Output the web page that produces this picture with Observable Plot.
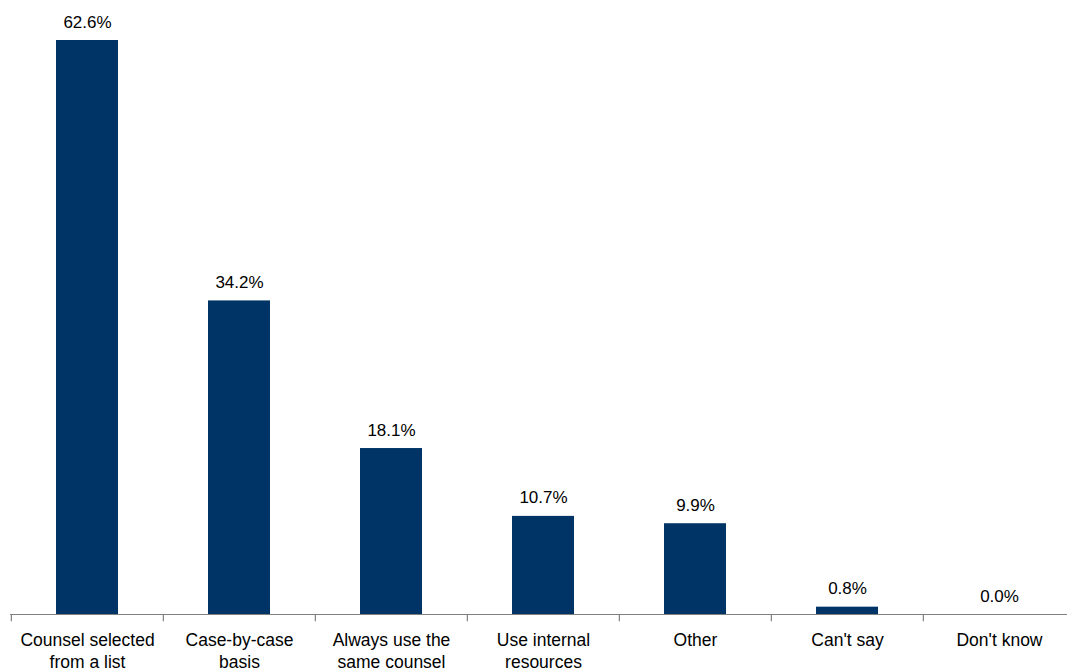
<!DOCTYPE html>
<html>
<head>
<meta charset="utf-8">
<script src="https://cdn.jsdelivr.net/npm/d3@7"></script>
<script src="https://cdn.jsdelivr.net/npm/@observablehq/plot@0.6"></script>
<style>
  html, body { margin: 0; padding: 0; background: #fff; }
  #chart svg { display: block; }
</style>
</head>
<body>
<div id="chart"></div>
<script>
const categories = ["Counsel selected\nfrom a list", "Case-by-case\nbasis", "Always use the\nsame counsel", "Use internal\nresources", "Other", "Can't say", "Don't know"];
const values = [62.6, 34.2, 18.1, 10.7, 9.9, 0.8, 0.0];
const valueLabels = ["62.6%", "34.2%", "18.1%", "10.7%", "9.9%", "0.8%", "0.0%"];

const data = categories.map((c, i) => ({category: c, value: values[i], label: valueLabels[i]}));

const xRange = [10, 1076];
const step = (xRange[1] - xRange[0]) / categories.length;

const chart = Plot.plot({
  width: 1067,
  height: 671,
  marginTop: 18,
  marginBottom: 57,
  marginLeft: 10,
  marginRight: 0,
  style: {fontFamily: "Liberation Sans, Arial, sans-serif", fontSize: "17px", overflow: "visible"},
  x: {domain: categories, range: xRange, paddingInner: 0.59, paddingOuter: 0.295, axis: null},
  y: {domain: [0, 65], axis: null},
  marks: [
    Plot.barY(data, {x: "category", y: "value", fill: "#003366"}),
    Plot.ruleY([0], {stroke: "#808080", strokeWidth: 1.2}),
    Plot.ruleX(categories, {x: d => d, dx: -step / 2, y1: 0, y2: -0.78, stroke: "#808080", strokeWidth: 1.2}),
    Plot.text(data, {x: "category", y: "value", text: "label", lineAnchor: "bottom", dy: -13, fill: "#000", fontSize: 17}),
    Plot.text(data, {x: "category", y: 0, text: "category", lineAnchor: "top", dy: 16, lineHeight: 1.25, fill: "#000", fontSize: 17.5})
  ]
});
document.getElementById("chart").appendChild(chart);
</script>
</body>
</html>
